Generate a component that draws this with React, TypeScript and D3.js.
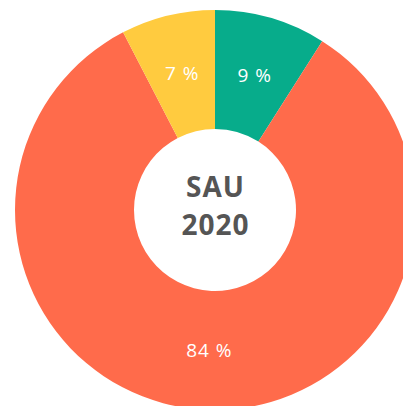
import React from "react";
import * as d3 from "d3";

const categories = ["Green", "Orange", "Yellow"];
const values = [9.0, 83.4, 7.6];
const labels = ["9 %", "84 %", "7 %"];
const colors = ["#07AC8B", "#FF6B4B", "#FFCB3F"];
const centerLines = ["SAU", "2020"];

const W = 403;
const H = 406;

export default function App() {
  const cx = 215;
  const cy = 210;
  const outer = 200;
  const inner = 81;
  const pie = d3.pie<number>().sort(null).value((d) => d)(values);
  const arc = d3.arc<d3.PieArcDatum<number>>().innerRadius(inner).outerRadius(outer);
  return (
    <svg
      width={W}
      height={H}
      style={{ position: "absolute", left: 0, top: 0, background: "#fff" }}
    >
      <g transform={`translate(${cx},${cy})`}>
        {pie.map((p, i) => (
          <path key={categories[i]} d={arc(p) || ""} fill={colors[i]} />
        ))}
        {pie.map((p, i) => {
          const [x, y] = arc.centroid(p);
          return (
            <text
              key={"l" + i}
              x={x + 0.5}
              y={y}
              dy="0.35em"
              textAnchor="middle"
              fill="#fff"
              fontFamily="'Open Sans', sans-serif"
              fontWeight={500}
              fontSize={19}
              letterSpacing={1}
            >
              {labels[i]}
            </text>
          );
        })}
        {centerLines.map((t, i) => (
          <text
            key={"c" + i}
            x={0.5}
            y={-13 + i * 38}
            textAnchor="middle"
            fill="#555"
            fontFamily="'Open Sans', sans-serif"
            fontWeight={700}
            fontSize={28}
            letterSpacing={1}
          >
            {t}
          </text>
        ))}
      </g>
    </svg>
  );
}
